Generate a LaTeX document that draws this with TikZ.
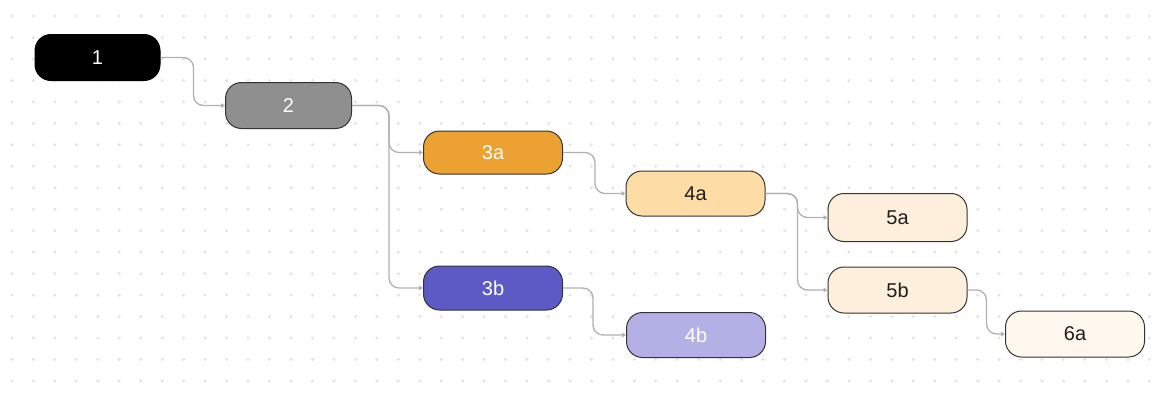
\documentclass[tikz,border=0pt]{standalone}
\usepackage{fontspec}
\setmainfont{Liberation Sans}
\usetikzlibrary{arrows.meta}

\definecolor{dotc}{HTML}{E2E2E6}
\definecolor{linec}{HTML}{B0B0B0}
\definecolor{edgec}{HTML}{333333}
\definecolor{txtdark}{HTML}{1E1E1E}
\definecolor{cgray}{HTML}{8F8F8F}
\definecolor{corange}{HTML}{EBA232}
\definecolor{cpeach}{HTML}{FDDCA6}
\definecolor{ccream}{HTML}{FDEFDC}
\definecolor{civory}{HTML}{FFF8EF}
\definecolor{cindigo}{HTML}{5C5BC6}
\definecolor{clilac}{HTML}{B3B0E6}

\tikzset{
  box/.style={rounded corners=16pt, draw=edgec, line width=1pt,
    inner sep=0pt, minimum width=139pt, minimum height=45pt,
    font=\fontsize{20}{24}\selectfont},
  light/.style={box, text=white},
  darktext/.style={box, text=txtdark},
  conn/.style={draw=linec, line width=1.3pt, rounded corners=10pt,
    -{Triangle[length=4pt,width=4.5pt]}},
}

\begin{document}
\begin{tikzpicture}[x=1pt, y=-1pt]
  % canvas
  \fill[white] (0,0) rectangle (1162,394);
  \useasboundingbox (0,0) rectangle (1162,394);
  % dotted grid
  \foreach \i in {0,...,53}{
    \foreach \j in {0,...,17}{
      \fill[dotc] ({12+\i*21.46}, {16+\j*21.47}) circle (1.6pt);
    }
  }

  % tree nodes
  \node[light, fill=black, draw=black, minimum width=125pt, minimum height=46pt] (n1) at (97.5,57.5) {1};
  \node[light, fill=cgray, minimum width=126pt, minimum height=46pt] (n2) at (288.5,105.5) {2};
  \node[light, fill=corange, minimum height=43pt] (n3a) at (493,152.5) {3a};
  \node[light, fill=cindigo, minimum height=44pt] (n3b) at (493,288) {3b};
  \node[darktext, fill=cpeach] (n4a) at (695.5,193.5) {4a};
  \node[light, fill=clilac] (n4b) at (696,335) {4b};
  \node[darktext, fill=ccream, minimum height=48pt] (n5a) at (897.5,217.5) {5a};
  \node[darktext, fill=ccream, minimum height=46pt] (n5b) at (897.5,290) {5b};
  \node[darktext, fill=civory, minimum height=46pt] (n6a) at (1075,334) {6a};

  % connectors
  \draw[conn] (n1.east) -- ++(33,0) |- (n2.west);
  \draw[conn] (n2.east) -- ++(37,0) |- (n3a.west);
  \draw[conn] (n2.east) -- ++(37,0) |- (n3b.west);
  \draw[conn] (n3a.east) -- ++(32,0) |- (n4a.west);
  \draw[conn] (n3b.east) -- ++(30,0) |- (n4b.west);
  \draw[conn] (n4a.east) -- ++(32,0) |- (n5a.west);
  \draw[conn] (n4a.east) -- ++(32,0) |- (n5b.west);
  \draw[conn] (n5b.east) -- ++(19,0) |- (n6a.west);
\end{tikzpicture}
\end{document}
